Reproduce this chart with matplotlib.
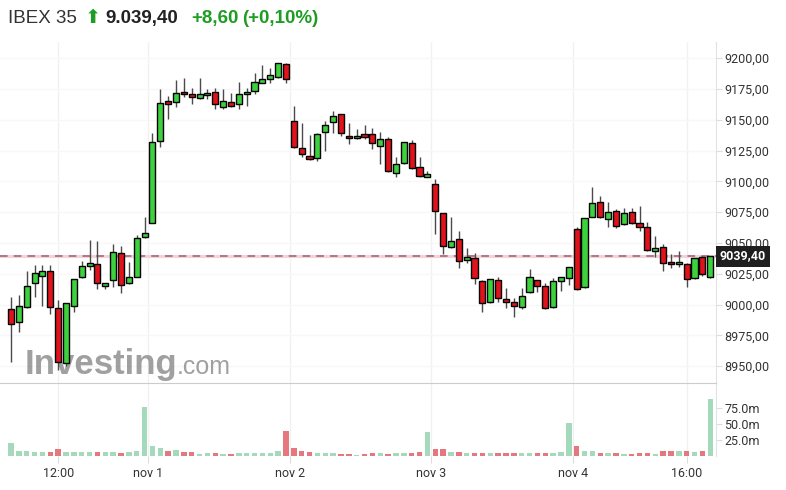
import numpy as np
import matplotlib.pyplot as plt
from matplotlib.transforms import blended_transform_factory

# IBEX 35, 30 min candles, 31 oct - 4 nov (18 per session)
opens = [8996.1, 8985.8, 8998.0, 9017.3, 9023.4, 9027.5, 8996.9, 8952.3, 8999.0,
         9022.1, 9031.3, 9032.7, 9015.3, 9020.0, 9041.6, 9017.3, 9022.4, 9054.6,
         9066.3, 9133.1, 9165.1, 9164.5, 9172.7, 9170.8, 9167.6, 9170.0, 9172.9,
         9160.5, 9164.5, 9162.7, 9170.8, 9173.5, 9180.2, 9183.0, 9184.6, 9195.4,
         9149.4, 9126.9, 9120.9, 9118.8, 9139.9, 9148.1, 9154.6, 9137.2, 9135.1,
         9138.3, 9138.3, 9128.8, 9134.2, 9106.6, 9114.7, 9131.0, 9112.0, 9103.4,
         9097.7, 9074.1, 9046.5, 9053.0, 9036.4, 9037.6, 9019.4, 9001.8, 9019.7,
         9004.2, 9002.3, 8997.7, 9010.5, 9020.0, 9015.3, 8997.7, 9019.4, 9021.3,
         9061.1, 9014.0, 9070.9, 9083.6, 9069.7, 9076.3, 9065.2, 9075.4, 9066.3,
         9062.7, 9043.5, 9046.8, 9034.8, 9032.9, 9032.7, 9021.3, 9038.9, 9022.6]
highs = [9005.9, 9007.8, 9027.3, 9032.1, 9032.1, 9032.1, 9003.7, 9001.5, 9021.0,
         9035.4, 9052.4, 9051.4, 9017.8, 9049.2, 9047.8, 9034.3, 9056.5, 9070.9,
         9139.1, 9175.3, 9169.4, 9182.4, 9183.8, 9175.7, 9183.8, 9174.9, 9175.7,
         9175.1, 9171.6, 9181.0, 9175.7, 9187.9, 9194.6, 9191.9, 9196.5, 9196.5,
         9161.3, 9147.2, 9137.7, 9139.6, 9149.4, 9157.2, 9155.0, 9147.2, 9142.4,
         9145.9, 9143.2, 9139.9, 9136.4, 9119.6, 9132.3, 9133.7, 9119.6, 9108.5,
         9101.8, 9074.3, 9071.4, 9059.8, 9045.7, 9041.6, 9019.6, 9021.0, 9022.1,
         9013.2, 9005.1, 9013.2, 9028.9, 9020.2, 9017.3, 9021.3, 9022.6, 9030.9,
         9062.7, 9070.3, 9095.7, 9088.2, 9083.1, 9077.4, 9078.2, 9078.2, 9080.3,
         9067.3, 9055.7, 9049.2, 9041.1, 9043.5, 9034.0, 9037.8, 9039.1, 9039.6]
lows = [8953.6, 8977.9, 8997.5, 9006.4, 8999.0, 8992.3, 8946.8, 8950.1, 8994.2,
        9021.8, 9028.1, 9012.4, 9012.6, 9014.5, 9009.6, 9017.0, 9022.0, 9053.8,
        9066.0, 9128.2, 9150.5, 9160.7, 9168.9, 9162.7, 9167.3, 9166.7, 9158.9,
        9158.9, 9160.7, 9158.9, 9161.5, 9170.8, 9180.0, 9179.7, 9184.3, 9179.7,
        9126.9, 9120.1, 9117.4, 9116.9, 9125.0, 9139.1, 9137.2, 9130.2, 9134.8,
        9134.5, 9126.1, 9114.2, 9107.4, 9103.9, 9114.5, 9110.1, 9103.9, 9103.2,
        9057.1, 9041.1, 9046.3, 9029.7, 9033.5, 9016.4, 8994.2, 9001.5, 9002.3,
        8997.4, 8990.1, 8996.1, 9009.1, 9010.5, 8996.1, 8996.9, 9011.3, 9015.9,
        9011.8, 9013.8, 9070.7, 9070.1, 9063.2, 9061.9, 9065.0, 9065.4, 9060.0,
        9043.8, 9038.9, 9027.5, 9029.5, 9030.3, 9014.5, 9021.0, 9023.2, 9021.3]
closes = [8983.9, 8999.0, 9015.3, 9025.4, 9027.0, 8997.7, 8953.1, 9001.0, 9020.5,
          9031.6, 9033.5, 9017.3, 9017.5, 9043.0, 9016.1, 9022.6, 9053.8, 9058.4,
          9132.3, 9163.5, 9162.9, 9172.1, 9170.8, 9168.4, 9170.8, 9171.9, 9162.7,
          9165.6, 9161.5, 9170.8, 9172.9, 9180.8, 9183.0, 9186.2, 9196.0, 9183.0,
          9127.8, 9122.1, 9118.0, 9138.3, 9145.6, 9153.2, 9139.1, 9135.1, 9137.2,
          9136.1, 9131.0, 9134.2, 9108.5, 9113.9, 9132.0, 9110.7, 9104.4, 9105.8,
          9076.0, 9047.8, 9051.9, 9035.6, 9038.6, 9021.3, 9001.0, 9020.5, 9005.1,
          9001.8, 8998.8, 9007.2, 9022.6, 9015.3, 8996.9, 9019.4, 9022.4, 9030.8,
          9012.4, 9070.1, 9082.2, 9070.9, 9075.2, 9063.8, 9074.1, 9066.0, 9062.7,
          9044.3, 9045.7, 9033.5, 9032.9, 9034.8, 9020.5, 9037.6, 9024.6, 9039.4]
# volume in millions
volume = [20, 8.5, 8.5, 7, 7, 7, 10.5, 7, 7, 7, 7, 7, 6, 7, 5, 7, 8, 76,
          16, 12.5, 7.5, 10, 5.5, 5.5, 3.5, 5, 4, 3, 3.5, 5, 5, 5, 5, 5, 8.5, 39,
          12.5, 8.5, 7, 4, 4, 4, 3, 2.5, 1, 3, 4, 5, 3, 5, 4, 4, 7, 37,
          11, 11, 7, 7, 4, 4, 4, 4, 4, 5, 5, 5, 5, 5, 5, 5, 7, 52,
          16, 8.5, 8.5, 5, 5, 5, 3, 3, 5, 5, 3, 8.5, 8.5, 8.5, 8.5, 7, 8.5, 89]
prev_close = 8980.0
last_price = 9039.40

per_day = 18
day_labels = ['nov 1', 'nov 2', 'nov 3', 'nov 4']
hour_ticks = {6: '12:00', 4 * 18 + 14: '16:00'}

price_ticks = np.arange(8950, 9201, 25)
vol_ticks = [25, 50, 75]

green = '#3dd13d'
red = '#e0121c'
vgreen = '#a4d9bb'
vred = '#e5787e'
tcol = '#333333'
upcol = '#1f9d22'

o = np.array(opens); h = np.array(highs); l = np.array(lows); c = np.array(closes)
v = np.array(volume)
x = np.arange(len(o))
up = c >= o
vup = c >= np.r_[prev_close, c[:-1]]

fig = plt.figure(figsize=(7.86, 4.90), dpi=100)
ax = fig.add_axes([0, 1 - 383 / 490, 716 / 786, (383 - 42) / 490])
axv = fig.add_axes([0, 1 - 456 / 490, 716 / 786, (456 - 383) / 490], sharex=ax)

xmin, xmax = -1.4, 89.73

# x ticks: session starts and two intraday hours
xt = [k * per_day - 0.5 for k in range(1, 5)] + list(hour_ticks.keys())
xl = day_labels + list(hour_ticks.values())

for a in (ax, axv):
    for xx in xt:
        a.axvline(xx, color='#f1f1f1', lw=1, zorder=0)

for p in price_ticks:
    ax.axhline(p, color='#f7f7f7', lw=1, zorder=0)

# candles
ax.vlines(x, l, h, color='#4a4a4a', lw=1, zorder=2)
body_lo = np.minimum(o, c)
body_h = np.maximum(np.abs(c - o), 0.8)
ax.bar(x, body_h, bottom=body_lo, width=0.78, color=np.where(up, green, red),
       edgecolor='black', linewidth=1, zorder=3)

# last price line
ax.axhline(last_price, color='#f3d3da', lw=2.2, zorder=1)
ax.axhline(last_price, color='#a0606c', lw=1.1, ls=(0, (5, 4)), zorder=1.5)

ax.set_xlim(xmin, xmax)
ax.set_ylim(8936.3, 9213.2)
for s in ['top', 'left', 'bottom']:
    ax.spines[s].set_visible(False)
ax.spines['right'].set_color('#e2e2e2')
ax.yaxis.tick_right()
ax.set_yticks(price_ticks)
ax.set_yticklabels([f'{p:.2f}'.replace('.', ',') for p in price_ticks],
                   fontsize=9, color=tcol, family='Roboto')
ax.tick_params(axis='y', length=4, color='#dddddd', pad=2)
ax.tick_params(axis='x', bottom=False, labelbottom=False)

trans = blended_transform_factory(ax.transAxes, ax.transData)
ax.text(1.0 + 4 / 716, last_price, f'{last_price:.2f}'.replace('.', ','),
        transform=trans, ha='left', va='center', fontsize=9, fontweight='bold',
        color='white', family='Roboto', zorder=10, clip_on=False,
        bbox=dict(boxstyle='square,pad=0.32', fc='#1e1e1e', ec='none'))

# watermark
ax.text(0.035, 0.025, 'Investing', transform=ax.transAxes, fontsize=25,
        fontweight='bold', color='#8f8f8f', alpha=0.85, va='baseline',
        family='Liberation Sans', zorder=1)
ax.text(0.247, 0.025, '.com', transform=ax.transAxes, fontsize=18,
        color='#8f8f8f', alpha=0.85, va='baseline', family='Liberation Sans', zorder=1)

# volume
axv.bar(x, v, width=0.7, color=np.where(vup, vgreen, vred), zorder=2)
axv.set_ylim(0, 114)
for s in ['left', 'bottom']:
    axv.spines[s].set_visible(False)
axv.spines['top'].set_color('#cccccc')
axv.spines['right'].set_color('#e2e2e2')
axv.yaxis.tick_right()
axv.set_yticks(vol_ticks)
axv.set_yticklabels([f'{t:.1f}m' for t in vol_ticks], fontsize=9, color=tcol,
                    family='Roboto')
axv.tick_params(axis='y', length=4, color='#dddddd', pad=2)
axv.set_xticks(xt)
axv.set_xticklabels(xl, fontsize=9, color=tcol, family='Roboto')
axv.tick_params(axis='x', length=5, color='#dddddd', pad=3)
axv.set_xlim(xmin, xmax)

# title
yb = 1 - 22.7 / 490
fig.text(8 / 786, yb, 'IBEX 35', fontsize=13.5, color='#333333',
         family='Liberation Sans', va='baseline')
fig.text(85 / 786, yb, '\u2b06', fontsize=14, color=upcol,
         family='DejaVu Sans', va='baseline')
fig.text(105 / 786, yb, '9.039,40', fontsize=13.5, fontweight='bold',
         color='#222222', family='Liberation Sans', va='baseline')
fig.text(191 / 786, yb, '+8,60', fontsize=13.5, fontweight='bold',
         color=upcol, family='Liberation Sans', va='baseline')
fig.text(242 / 786, yb, '(+0,10%)', fontsize=13.5, fontweight='bold',
         color=upcol, family='Liberation Sans', va='baseline')

fig.savefig('out.png', dpi=100)
